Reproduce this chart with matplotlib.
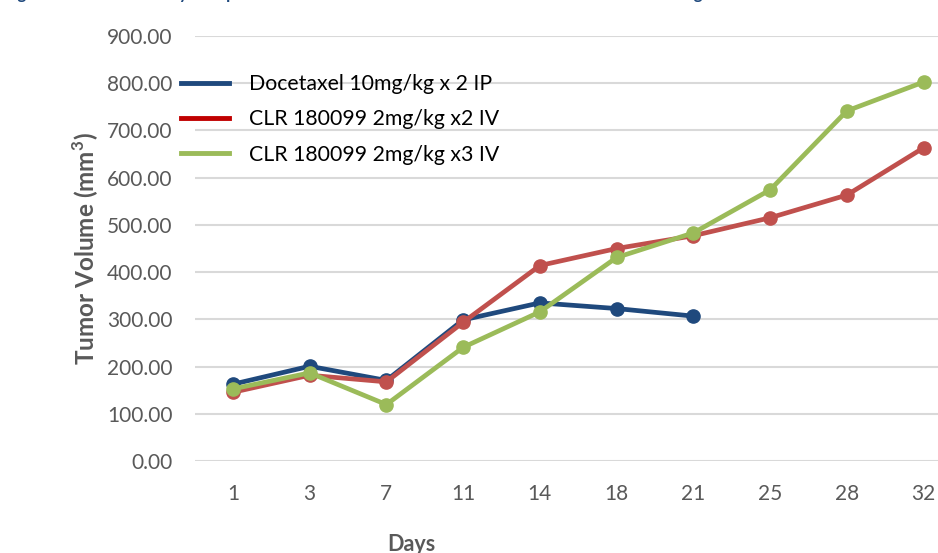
import matplotlib
matplotlib.use('Agg')
import matplotlib.pyplot as plt
from matplotlib.lines import Line2D

plt.rcParams['font.family'] = ['Lato', 'DejaVu Sans']
plt.rcParams['mathtext.fontset'] = 'custom'
plt.rcParams['mathtext.rm'] = 'Lato'
plt.rcParams['mathtext.bf'] = 'Lato:bold'

days = ['1', '3', '7', '11', '14', '18', '21', '25', '28', '32']
docetaxel = [163, 201, 171, 299, 335, 323, 307]
clr_x2 = [146, 182, 168, 294, 414, 450, 477, 515, 563, 663]
clr_x3 = [153, 187, 120, 241, 316, 431, 483, 574, 741, 802]

series_names = ['Docetaxel 10mg/kg x 2 IP', 'CLR 180099 2mg/kg x2 IV', 'CLR 180099 2mg/kg x3 IV']
line_colors = ['#1F497D', '#C0504D', '#9BBB59']
legend_colors = ['#1F497D', '#C00000', '#9BBB59']

title = ('Figure 2: In Vivo Efficacy Comparison of Docetaxel and CLR 180099 '
         'in A375 Melanoma Xenograft')

W, H = 938, 553
fig = plt.figure(figsize=(W / 100, H / 100), dpi=100)
# axes run past the right edge, like the cropped original
ax = fig.add_axes([194.5 / W, (H - 461.3) / H, 767.5 / W, (461.3 - 35.7) / H])

x = list(range(len(days)))
for vals, col in zip([docetaxel, clr_x2, clr_x3], line_colors):
    ax.plot(x[:len(vals)], vals, color=col, lw=3.4, marker='o', ms=9.5,
            solid_capstyle='round', solid_joinstyle='round', zorder=3)

ax.set_xlim(-0.5, len(days) - 0.5)
ax.set_ylim(0, 900)
ax.set_xticks(x)
ax.set_xticklabels(days)
ax.set_yticks(range(0, 901, 100))
ax.set_yticklabels(['%.2f' % v for v in range(0, 901, 100)])
ax.tick_params(length=0, labelsize=15, colors='#595959')
ax.tick_params(axis='y', pad=16)
ax.tick_params(axis='x', pad=16)
ax.grid(axis='y', color='#D9D9D9', lw=1.5, zorder=0)
for s in ax.spines.values():
    s.set_visible(False)

handles = [Line2D([], [], color=c, lw=3.5) for c in legend_colors]
fig.legend(handles, series_names, loc='upper left',
           bbox_to_anchor=(181 / W, 1 - 74 / H), frameon=False,
           fontsize=15.3, handlelength=2.25, handletextpad=0.95,
           labelspacing=0.72, borderpad=0, borderaxespad=0)

fig.text(86 / W, 1 - 249 / H, r'Tumor Volume (mm$^{\mathbf{3}}$)', rotation=90,
         ha='center', va='center', fontsize=17.5, fontweight='bold', color='#595959')
fig.text(411 / W, 2 / H, 'Days', ha='center', va='baseline',
         fontsize=15.5, fontweight='bold', color='#595959')
fig.text(4 / W, 1.001, title, ha='left', va='baseline',
         fontsize=12, fontweight='bold', color='#1F497D')

fig.savefig('out.png', dpi=100)
